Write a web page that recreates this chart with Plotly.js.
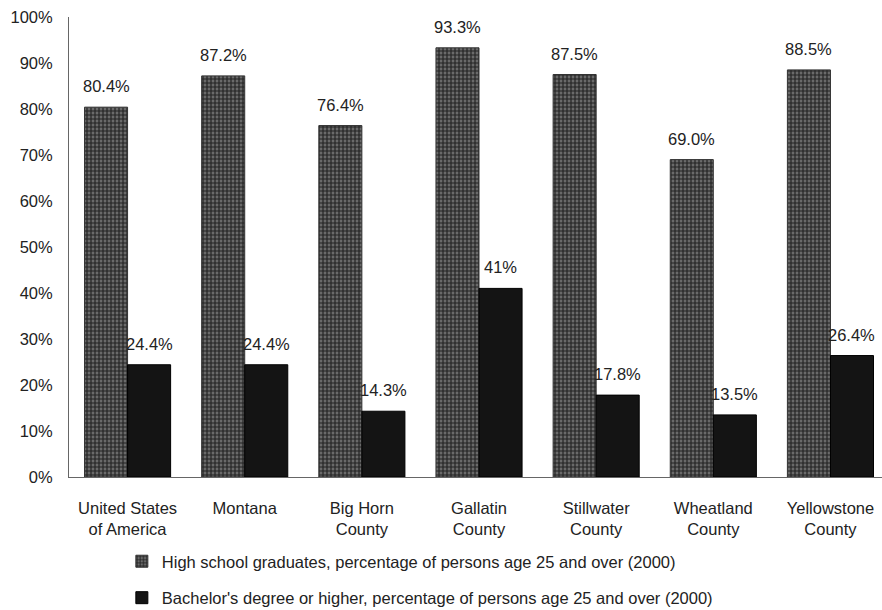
<!DOCTYPE html>
<html><head><meta charset="utf-8">
<script src="https://cdn.plot.ly/plotly-3.0.1.min.js"></script>
<style>html,body{margin:0;padding:0;background:#fff}</style>
</head><body>
<div id="chart" style="width:882px;height:610px"></div>
<script>
var categories = ["United States<br>of America", "Montana", "Big Horn<br>County", "Gallatin<br>County", "Stillwater<br>County", "Wheatland<br>County", "Yellowstone<br>County"];
var highSchool = [80.4, 87.2, 76.4, 93.3, 87.5, 69.0, 88.5];
var bachelor = [24.4, 24.4, 14.3, 41, 17.8, 13.5, 26.4];
var highSchoolLabels = ["80.4%", "87.2%", "76.4%", "93.3%", "87.5%", "69.0%", "88.5%"];
var bachelorLabels = ["24.4%", "24.4%", "14.3%", "41%", "17.8%", "13.5%", "26.4%"];
var seriesNames = ["High school graduates, percentage of persons age 25 and over (2000)",
                   "Bachelor's degree or higher, percentage of persons age 25 and over (2000)"];
var yTicks = [0,10,20,30,40,50,60,70,80,90,100];
var yTickText = yTicks.map(function(v){return v + "%";});

var font = {family: "Liberation Sans, Arial, sans-serif", size: 16.5, color: "#222"};
var traces = [
  {type: "bar", x: categories, y: highSchool, name: seriesNames[0], legendgroup: "a",
   marker: {color: "#555", line: {color: "#333", width: 1},
            pattern: {shape: "+", fgcolor: "#222", bgcolor: "#6a6a6a", size: 4, solidity: 0.5}}},
  {type: "bar", x: categories, y: bachelor, name: seriesNames[1], legendgroup: "b",
   marker: {color: "#141414", line: {color: "#000", width: 1}}}
];
var annotations = [];
categories.forEach(function(c, i){
  annotations.push({x: c, y: highSchool[i], text: highSchoolLabels[i], showarrow: false,
    xanchor: "center", yanchor: "middle", xshift: -21.5, yshift: 21, font: font});
  annotations.push({x: c, y: bachelor[i], text: bachelorLabels[i], showarrow: false,
    xanchor: "center", yanchor: "middle", xshift: 21.5, yshift: 21, font: font});
});
var layout = {
  width: 882, height: 610,
  margin: {l: 69, r: 0, t: 17, b: 133, autoexpand: false},
  paper_bgcolor: "#fff", plot_bgcolor: "#fff",
  font: font,
  showlegend: true,
  annotations: annotations,
  barmode: "group", bargap: 0.265, bargroupgap: 0,
  xaxis: {range: [-0.5, 6.44], showgrid: false, showline: true, linecolor: "#666", linewidth: 1,
          ticks: "", tickfont: font, zeroline: false, automargin: false, ticklabelstandoff: 16},
  yaxis: {range: [0, 100], tickvals: yTicks, ticktext: yTickText, showgrid: false,
          showline: true, linecolor: "#666", linewidth: 1, ticks: "", ticklen: 0,
          tickfont: font, zeroline: false, automargin: false, ticklabelstandoff: 12},
  legend: {orientation: "v", x: 0.065, xanchor: "left", y: -0.300, yanchor: "bottom",
           font: font, traceorder: "grouped", tracegroupgap: 12, itemwidth: 30,
           bgcolor: "rgba(0,0,0,0)"}
};
Plotly.newPlot("chart", traces, layout, {staticPlot: true});
</script>
</body></html>
